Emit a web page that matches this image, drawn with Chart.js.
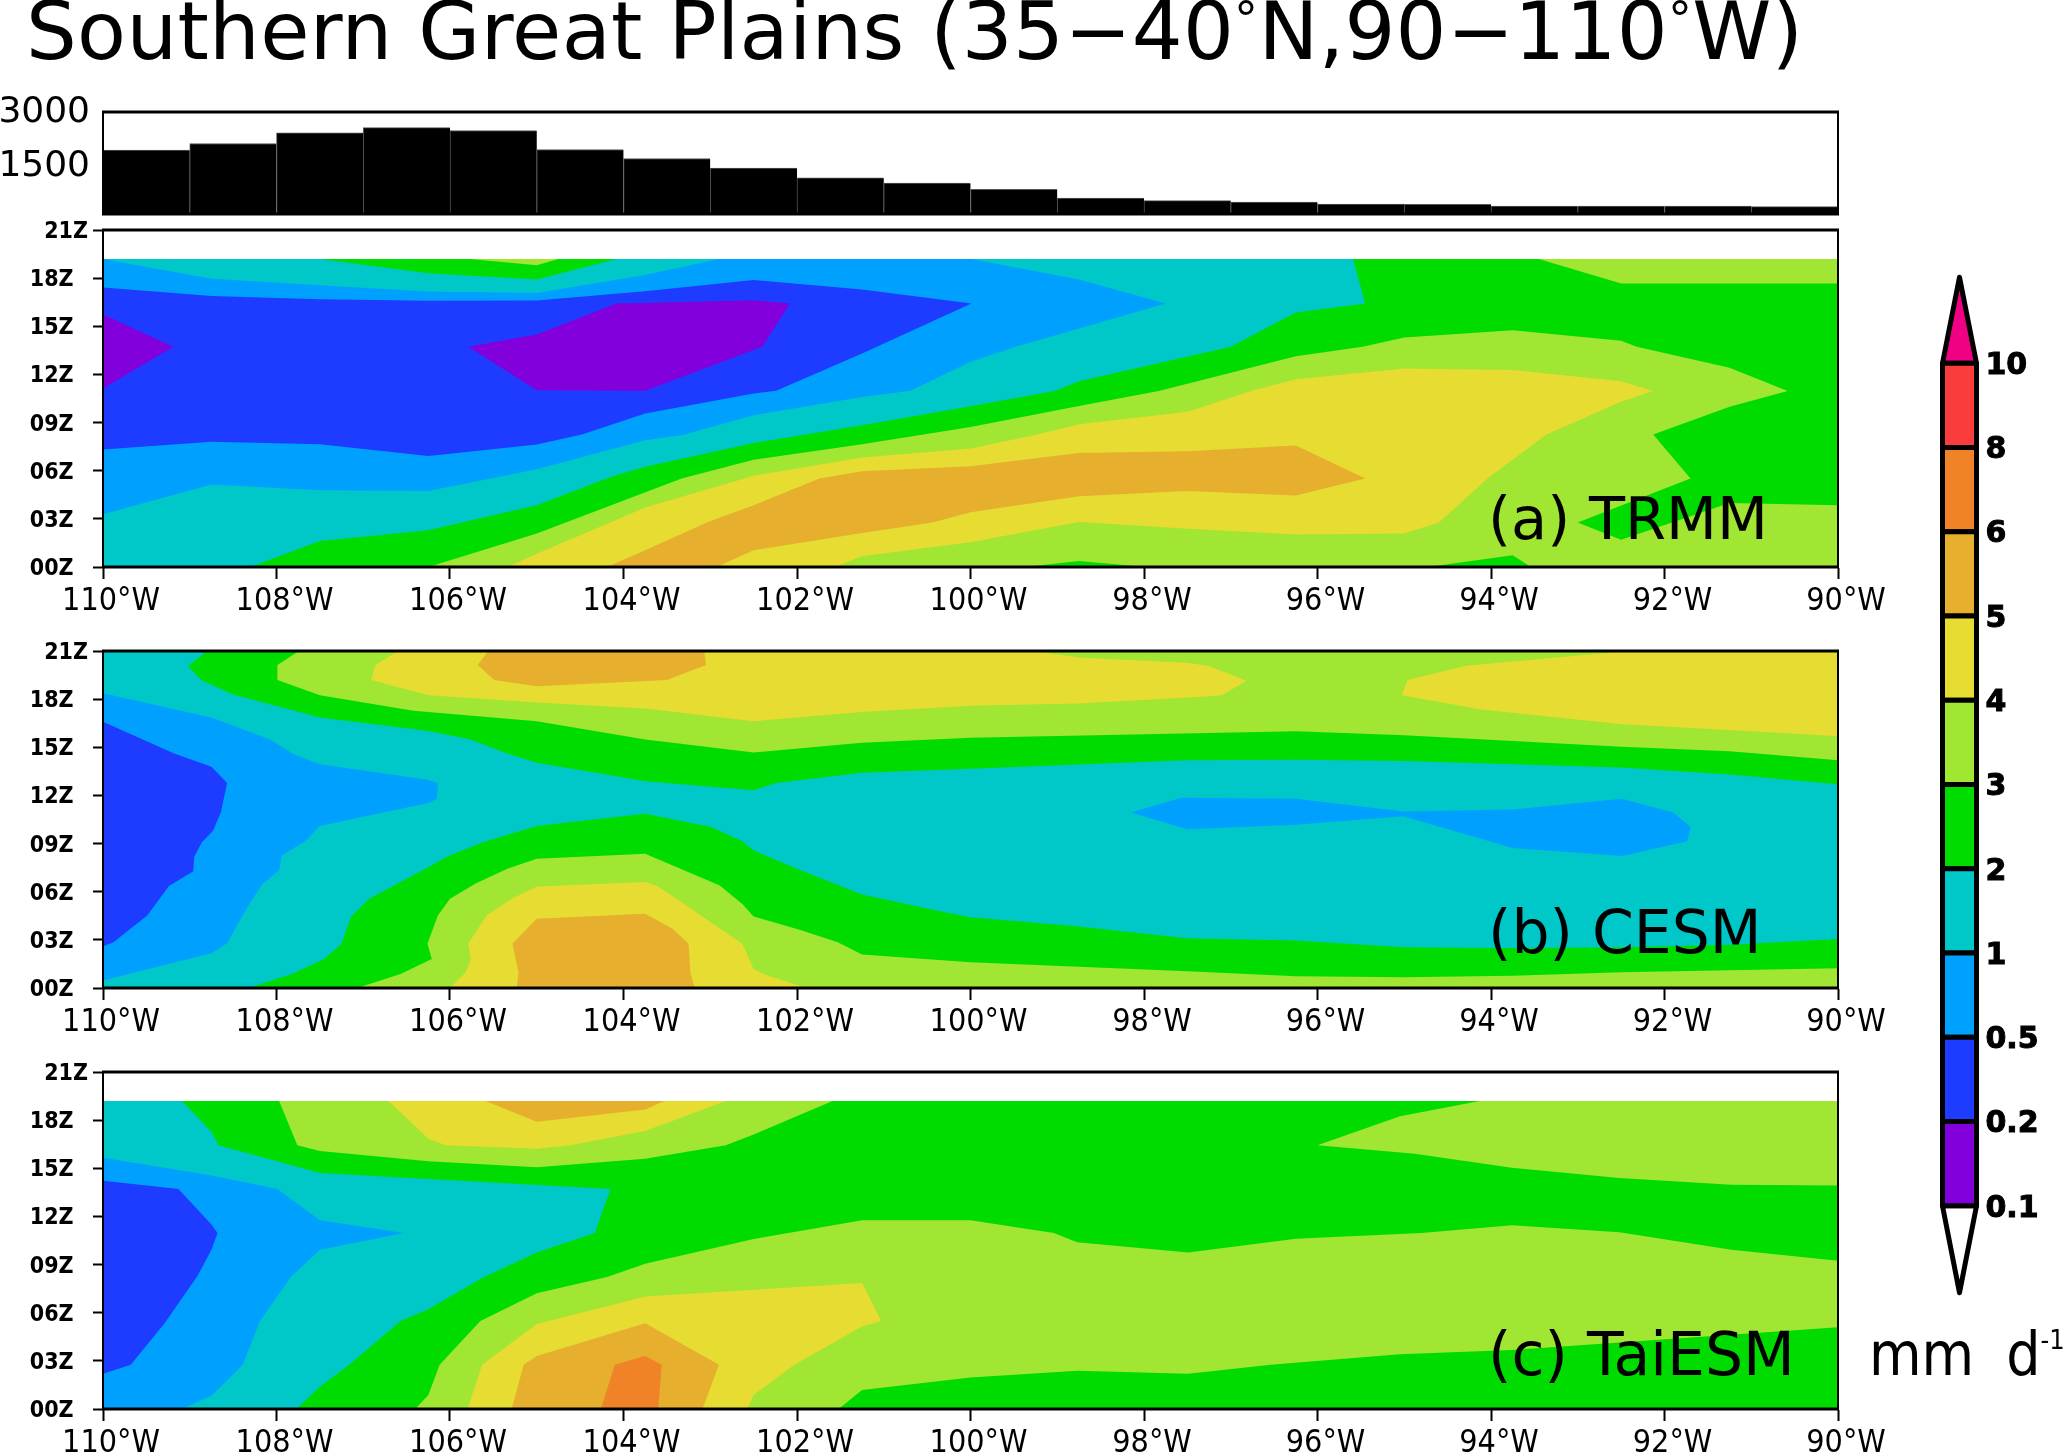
<!DOCTYPE html>
<html>
<head>
<meta charset="utf-8">
<script src="https://cdn.jsdelivr.net/npm/chart.js@4"></script>
<style>
  html, body { margin: 0; padding: 0; background: #fff; width: 2067px; height: 1453px; overflow: hidden; }
  canvas { position: absolute; left: 0; }
  .txt { position: absolute; font-family: "DejaVu Sans", sans-serif; color: #000; white-space: nowrap; line-height: 1; }
  .deg { font-size: 0.6em; vertical-align: 0.48em; line-height: 0; }
  sup { font-size: 0.45em; vertical-align: 0.95em; line-height: 0; }
</style>
</head>
<body>
<canvas id="terrain" width="1900" height="182" style="top:72px"></canvas>
<canvas id="chartA" width="1900" height="427" style="top:205px"></canvas>
<canvas id="chartB" width="1900" height="427" style="top:626px"></canvas>
<canvas id="chartC" width="1900" height="427" style="top:1047px"></canvas>
<canvas id="colorbar" width="142" height="1105" style="left:1925px;top:232px"></canvas>

<div class="txt" id="title" style="left:26px;top:-8px;font-size:80px;letter-spacing:0.33px;">Southern Great Plains (35−40<span class="deg">°</span>N,90−110<span class="deg">°</span>W)</div>
<div class="txt" style="left:1488px;top:489px;font-size:59px;">(a) TRMM</div>
<div class="txt" style="left:1488px;top:902px;font-size:60px;">(b) CESM</div>
<div class="txt" style="left:1488px;top:1324px;font-size:60px;">(c) TaiESM</div>
<div class="txt" style="left:1869px;top:1324px;font-size:60px;font-family:'DejaVu Sans Condensed','DejaVu Sans',sans-serif;word-spacing:15px;">mm d<sup>-1</sup></div>

<script>
// terrain height per 1 degree longitude bin (m)
const terrainBins = [110,109,108,107,106,105,104,103,102,101,100,99,98,97,96,95,94,93,92,91];
const terrainHeight = [1939,2124,2420,2568,2485,1958,1709,1441,1173,1025,849,609,536,499,443,434,388,388,388,369];
const terrainTicks = [1500,3000];

// colorbar
const barLevels = [0.1,0.2,0.5,1,2,3,4,5,6,8,10];
const COLORS = {
  purple:'rgb(130,0,220)', blue:'rgb(30,60,255)', sky:'rgb(0,160,255)', teal:'rgb(0,200,200)',
  green:'rgb(0,220,0)', lime:'rgb(160,230,50)', yellow:'rgb(230,220,50)', amber:'rgb(230,175,45)',
  orange:'rgb(240,130,40)', red:'rgb(250,60,60)', pink:'rgb(240,0,130)'
};
const barColors = ['purple','blue','sky','teal','green','lime','yellow','amber','orange','red'];

const hourTicks = ['00','03','06','09','12','15','18','21'];

// contour regions: [deg W, hour UTC]
const aBase = [[110,0],[90,0],[90,19.2],[110,19.2]];
const aBlue = [[110,17.42],[108.75,16.88],[107.5,16.69],[106.25,16.59],[105,16.61],[103.75,17.19],[102.5,17.88],[101.25,17.3],[99.99,16.42],[101.25,13.3],[102.24,10.98],[102.5,10.81],[103.75,9.56],[104.48,8.25],[105,7.63],[106.25,6.92],[107.5,7.65],[108.75,7.8],[110,7.32]];
const aPurple1 = [[110,15.74],[109.19,13.72],[110,11.12]];
const aPurple2 = [[105.79,13.72],[105,14.49],[104.08,16.42],[102.5,16.63],[102.08,16.42],[102.4,13.72],[103.75,10.98],[105,11.02]];
const aTealTop = [[110,19.2],[108.75,17.96],[107.5,17.55],[106.25,17.17],[105,17.07],[103.75,18.19],[102.9,19.2]];
const aTeal = [[99.99,19.2],[98.75,17.92],[97.75,16.42],[98.75,14.86],[99.48,13.72],[100,12.79],[100.69,10.98],[101.25,10.6],[102.5,9.46],[103.33,8.21],[103.75,7.9],[105,6.09],[106.25,4.74],[107.5,4.78],[108.75,5.14],[110,3.28],[110,0],[90,0],[90,19.2]];
const aGreenTop = [[107.5,19.2],[106.25,18.3],[105,17.92],[104.08,19.2]];
const aGreen = [[108.3,0],[107.5,1.62],[106.25,2.29],[105,3.85],[104.15,5.61],[103.75,6.24],[102.5,7.73],[101.25,8.84],[100,10.02],[99.03,10.96],[98.75,11.58],[97,13.72],[96.25,15.86],[95.45,16.42],[95.59,19.2],[90,19.2],[90,0]];
const aLimeTop = [[105.77,19.2],[105,18.81],[104.75,19.2]];
const aLimeRight = [[93.45,19.2],[92.5,17.67],[90,17.67],[90,19.2]];
const aLime = [[106.25,0],[105,2.08],[103.33,5.51],[102.5,6.69],[101.25,7.65],[100,8.73],[98.75,10.04],[97.83,10.96],[96.25,13.14],[95.48,13.72],[95,14.3],[93.75,14.76],[92.5,14.1],[92.32,13.72],[91.25,12.41],[90.58,10.96],[91.25,9.98],[92.13,8.25],[91.7,5.51],[93,2.77],[92.5,1.7],[91.25,3.99],[90,3.85],[90,0]];
const aGreenSpot1 = [[99.37,0],[98.75,0.37],[97.97,0]];
const aGreenSpot2 = [[94.73,0],[93.75,0.73],[93.54,0]];
const aYellow = [[105.34,0],[105,0.83],[103.75,3.7],[102.5,5.68],[101.25,6.82],[100,7.38],[99.27,8.21],[98.75,8.9],[97.5,9.67],[96.74,11.02],[96.25,11.7],[95,12.37],[93.75,12.27],[92.5,11.58],[92.13,10.96],[92.5,10.29],[93.36,8.25],[94.04,5.51],[94.6,2.77],[95,2.08],[96.25,2.02],[97.5,2.39],[98.75,2.81],[100,1.54],[101.25,0.67],[101.56,0]];
const aAmber = [[104.19,0],[103.75,1.04],[103.04,2.77],[102.5,3.85],[101.74,5.51],[101.25,5.97],[100,6.28],[98.75,7.11],[97.5,7.21],[96.25,7.57],[95.45,5.51],[96.25,4.45],[97.5,4.74],[98.75,4.41],[100,3.41],[100.44,2.77],[101.25,2.12],[102.5,1.04],[102.93,0]];

const bBase = [[110,0],[90,0],[90,21],[110,21]];
const bBlue = [[110,16.59],[109.18,14.61],[108.75,13.78],[108.57,12.78],[108.64,10.97],[108.73,9.82],[108.86,9.09],[108.95,8.16],[108.96,7.28],[109.24,6.35],[109.49,4.52],[109.88,2.85],[110,2.58]];
const bSkyLeft = [[110,18.36],[108.75,16.86],[108.08,15.5],[107.8,14.57],[107.5,13.94],[106.28,13],[106.14,12.78],[106.15,11.8],[106.24,11.55],[107.5,10.09],[107.67,9.14],[107.94,8.26],[107.97,7.33],[108.17,6.43],[108.37,4.72],[108.57,2.79],[108.75,2.16],[110,0.46]];
const bSkyRight = [[98.15,10.93],[97.57,11.86],[96.25,11.8],[95.01,11],[93.75,11.13],[92.49,11.8],[91.9,10.93],[91.7,10.03],[91.74,9.14],[92.49,8.22],[93.75,8.72],[95.01,10.7],[96.25,10.18],[97.5,9.89]];
const bGreenUp = [[108.8,21],[109.02,20.06],[108.87,19.19],[108.5,18.29],[107.5,16.86],[106.25,16.02],[105.77,15.5],[105.34,14.61],[105,14.03],[103.75,12.88],[102.5,12.32],[102.24,12.78],[101.25,13.42],[100,13.67],[97.5,14.19],[96.25,14.23],[95,14.15],[92.5,13.74],[91.25,13.3],[90,12.7],[90,21]];
const bGreenLow = [[108.33,0],[107.82,0.87],[107.45,1.81],[107.25,2.75],[107.14,4.45],[106.93,5.56],[106.25,7.53],[106.03,8.2],[105.62,9.09],[105,10.09],[103.75,10.86],[102.99,10.03],[102.63,9.14],[102.5,8.57],[101.96,7.33],[101.25,5.83],[100.35,4.79],[100,4.41],[98.75,3.83],[97.5,3.1],[96.25,2.96],[95,2.54],[93.75,2.5],[92.5,2.54],[91.25,2.7],[90,3.06],[90,0]];
const bLimeUp = [[107.74,21],[107.99,20.12],[107.99,19.19],[107.5,18.25],[106.42,17.27],[105,16.63],[103.75,15.48],[102.5,14.67],[101.25,15.28],[100,15.6],[96.25,16],[95,15.75],[92.5,15.03],[91.25,14.76],[90,14.19],[90,21]];
const bLimeLow = [[107.07,0],[106.57,0.87],[106.21,1.81],[106.26,2.75],[106.14,4.52],[106,5.56],[105.71,6.49],[105.34,7.43],[105,8.05],[103.75,8.37],[102.89,6.39],[102.63,5.24],[102.5,4.45],[101.96,3.62],[101.53,2.85],[101.25,2.08],[100,1.6],[97.5,1.04],[96.25,0.73],[95,0.67],[93.75,0.77],[92.5,0.98],[90,1.23],[90,0]];
const bYellowUp = [[106.6,21],[106.86,20.12],[106.91,19.19],[106.25,18.25],[105,17.79],[103.75,17.42],[102.5,16.63],[101.25,17.2],[100,17.59],[98.75,17.73],[97.32,18.15],[97.1,18.25],[96.82,19.15],[97.25,20.06],[97.5,20.27],[98.75,20.6],[99.27,21]];
const bYellowRight = [[92.42,21],[94.29,20.08],[94.96,19.19],[95.03,18.25],[94.11,17.36],[92.49,16.44],[91.25,16.07],[90,15.69],[90,21]];
const bYellowLow = [[106,0],[105.82,0.98],[105.76,1.81],[105.79,2.75],[105.58,4.52],[105.29,5.56],[105,6.33],[103.75,6.6],[103.6,6.33],[103.33,5.35],[102.97,4],[102.63,2.75],[102.5,1.19],[102.39,0.87],[101.89,0]];
const bAmberUp = [[105.56,21],[105.68,20.12],[105.49,19.19],[105,18.81],[103.5,19.19],[103.05,20.12],[103.07,21]];
const bAmberLow = [[105.23,0],[105.21,0.98],[105.28,2.75],[105,4.31],[103.75,4.62],[103.43,3.68],[103.25,2.75],[103.23,0.98],[103.18,0]];

const cBase = [[110,0],[90,0],[90,19.19],[110,19.19]];
const cTeal = [[109.09,19.19],[108.75,17.27],[108.67,16.44],[107.5,14.71],[104.15,13.71],[104.33,10.97],[105,9.76],[105.63,8.16],[106.25,6.22],[106.57,5.49],[107.14,2.85],[107.5,1.39],[107.77,0],[110,0],[110,19.19]];
const cSky = [[110,15.65],[108.75,14.55],[107.99,13.71],[107.5,11.76],[106.53,10.97],[107.5,9.93],[107.83,8.26],[108.19,5.49],[108.39,2.75],[108.75,0.83],[109.09,0],[110,0]];
const cBlue = [[110,14.23],[109.13,13.71],[108.75,11.49],[108.68,10.97],[108.75,9.93],[108.91,8.3],[109.29,5.35],[109.68,2.75],[110,2.19]];
const cLimeTop = [[107.97,19.19],[107.76,16.44],[107.5,16.07],[106.25,15.44],[105,15.07],[103.75,15.59],[102.82,16.44],[102.5,17.11],[101.59,19.19]];
const cYellowTop = [[106.71,19.19],[106.25,16.84],[106.05,16.44],[105,16.21],[104.61,16.44],[103.75,17.32],[102.82,19.19]];
const cAmberTop = [[105.59,19.19],[105,17.9],[103.75,18.67],[103.53,19.19]];
const cLimeRight = [[96,16.44],[95.05,18.25],[94.13,19.19],[90,19.19],[90,13.92],[91.23,13.98],[92.52,14.4],[93.76,15.03],[94.88,15.9]];
const cLime = [[106.4,0],[106.25,0.87],[106.12,2.75],[105.65,5.49],[105,7.22],[104.19,8.22],[103.75,9.05],[102.5,10.59],[101.25,11.76],[100,11.76],[99.04,10.97],[98.77,10.39],[97.49,9.76],[96.25,10.61],[94.8,10.97],[93.76,11.45],[92.52,11.01],[91.23,9.93],[90,9.24],[90,5.1],[93.76,3.68],[95.05,3.41],[96.54,2.75],[97.49,2.19],[98.77,2.39],[100,1.97],[101.25,1.19],[101.52,0]];
const cYellow = [[105.8,0],[105.63,2.75],[105,5.29],[103.75,7.01],[101.25,7.85],[101.03,5.49],[101.25,5.14],[102.03,2.75],[102.5,0.87],[102.57,0]];
const cAmber = [[105.29,0],[105.15,2.75],[105,3.31],[103.75,5.35],[102.9,2.75],[103.09,0]];
const cOrange = [[104.26,0],[104.1,2.75],[103.75,3.31],[103.56,2.75],[103.6,0]];

// painted bottom to top
const layersA = [['sky',aBase],['blue',aBlue],['purple',aPurple1],['purple',aPurple2],['teal',aTealTop],['teal',aTeal],['green',aGreenTop],['green',aGreen],['lime',aLimeTop],['lime',aLimeRight],['lime',aLime],['green',aGreenSpot1],['green',aGreenSpot2],['yellow',aYellow],['amber',aAmber]];
const layersB = [['teal',bBase],['sky',bSkyLeft],['blue',bBlue],['sky',bSkyRight],['green',bGreenUp],['green',bGreenLow],['lime',bLimeUp],['lime',bLimeLow],['yellow',bYellowUp],['yellow',bYellowRight],['yellow',bYellowLow],['amber',bAmberUp],['amber',bAmberLow]];
const layersC = [['green',cBase],['teal',cTeal],['sky',cSky],['blue',cBlue],['lime',cLimeTop],['yellow',cYellowTop],['amber',cAmberTop],['lime',cLimeRight],['lime',cLime],['yellow',cYellow],['amber',cAmber],['orange',cOrange]];

const frame = {
    id: 'frame',
    afterDraw(chart) {
        const { ctx, chartArea: a } = chart;
        ctx.save();
        ctx.strokeStyle = '#000';
        ctx.lineWidth = 2;
        ctx.beginPath();
        ctx.moveTo(a.left, a.top); ctx.lineTo(a.left, a.bottom);
        ctx.moveTo(a.right, a.top); ctx.lineTo(a.right, a.bottom);
        ctx.stroke();
        ctx.lineWidth = 3;
        ctx.beginPath();
        ctx.moveTo(a.left - 1, a.top); ctx.lineTo(a.right + 1, a.top);
        ctx.moveTo(a.left - 1, a.bottom); ctx.lineTo(a.right + 1, a.bottom);
        ctx.stroke();
        ctx.restore();
    }
};

const LABEL_FONT = '"DejaVu Sans Condensed", "DejaVu Sans", sans-serif';
const toPoints = (pts) => pts.map(p => ({ x: p[0], y: p[1] }));

const drawPanel = (id, layers) => new Chart(document.getElementById(id), {
    type: 'scatter',
    plugins: [frame],
    data: {
        // chart.js paints the first dataset last
        datasets: layers.slice().reverse().map(l => ({
            data: toPoints(l[1]),
            showLine: true,
            fill: 'shape',
            backgroundColor: COLORS[l[0]],
            borderWidth: 0,
            pointRadius: 0,
            tension: 0
        }))
    },
    options: {
        responsive: false,
        animation: false,
        layout: { padding: { top: 25, right: 62, bottom: 0, left: 0 } },
        plugins: { legend: { display: false }, tooltip: { enabled: false } },
        scales: {
            x: {
                type: 'linear', reverse: true, min: 90, max: 110,
                afterFit: s => { s.height = 65; },
                border: { color: '#000', width: 2 },
                grid: { drawOnChartArea: false, tickLength: 12, tickWidth: 2, tickColor: '#000' },
                ticks: { stepSize: 2, autoSkip: false, maxRotation: 0, padding: 3, labelOffset: 8, color: '#000',
                    font: { family: LABEL_FONT, size: 32 }, callback: v => v + '°W' }
            },
            y: {
                type: 'linear', min: 0, max: 21,
                afterFit: s => { s.width = 103; },
                border: { color: '#000', width: 2 },
                grid: { drawOnChartArea: false, tickLength: 10, tickWidth: 2, tickColor: '#000' },
                ticks: { stepSize: 3, padding: 5, labelOffset: 2, color: '#000',
                    font: { family: LABEL_FONT, size: 23, weight: 'bold' },
                    callback: v => {
                        const label = hourTicks[v / 3] + 'Z';
                        return v === 21 ? label : label + '\u00a0\u00a0';
                    } }
            }
        }
    }
});

new Chart(document.getElementById('terrain'), {
    type: 'bar',
    plugins: [frame],
    data: {
        labels: terrainBins,
        datasets: [{
            data: terrainHeight,
            backgroundColor: '#000',
            borderColor: '#555',
            borderWidth: { left: 1, right: 0, top: 1, bottom: 0 },
            barPercentage: 1,
            categoryPercentage: 1
        }]
    },
    options: {
        responsive: false,
        animation: false,
        layout: { padding: { top: 40, right: 62, bottom: 40, left: 0 } },
        plugins: { legend: { display: false }, tooltip: { enabled: false } },
        scales: {
            x: { display: false },
            y: {
                min: 166, max: 3000,
                afterFit: s => { s.width = 103; },
                afterBuildTicks: s => { s.ticks = terrainTicks.map(v => ({ value: v })); },
                grid: { display: false },
                border: { display: false },
                ticks: { padding: 5, labelOffset: 1, color: '#000', autoSkip: false,
                    font: { family: '"DejaVu Sans", sans-serif', size: 36 },
                    callback: v => String(v) }
            }
        }
    }
});

drawPanel('chartA', layersA);
drawPanel('chartB', layersB);
drawPanel('chartC', layersC);

// colorbar: each box spans one index of barLevels
const boxes = barColors.map((c, i) => ({
    data: toPoints([[0,i],[1,i],[1,i+1],[0,i+1],[0,i]]),
    backgroundColor: COLORS[c]
}));
boxes.push({ data: toPoints([[0,10],[0.5,11.02],[1,10],[0,10]]), backgroundColor: COLORS.pink });
boxes.push({ data: toPoints([[0,0],[0.5,-1.03],[1,0],[0,0]]), backgroundColor: '#fff' });

new Chart(document.getElementById('colorbar'), {
    type: 'scatter',
    data: {
        datasets: boxes.map(b => Object.assign(b, {
            showLine: true, fill: 'shape', borderColor: '#000', borderWidth: 5,
            borderJoinStyle: 'round', pointRadius: 0, tension: 0, clip: false
        }))
    },
    options: {
        responsive: false,
        animation: false,
        layout: { padding: { left: 17.5, right: 0, top: 30, bottom: 30 } },
        plugins: { legend: { display: false }, tooltip: { enabled: false } },
        scales: {
            x: { type: 'linear', min: 0, max: 1, display: false },
            y: {
                type: 'linear', position: 'right', min: -1.2, max: 11.2,
                afterFit: s => { s.width = 90.5; },
                afterBuildTicks: s => { s.ticks = barLevels.map((v, i) => ({ value: i })); },
                grid: { display: false },
                border: { display: false },
                ticks: { padding: 1, labelOffset: 3, color: '#000', autoSkip: false,
                    textStrokeColor: '#000', textStrokeWidth: 1,
                    font: { family: '"DejaVu Sans", sans-serif', size: 30, weight: 'bold' },
                    callback: v => barLevels[v] }
            }
        }
    }
});
</script>
</body>
</html>
